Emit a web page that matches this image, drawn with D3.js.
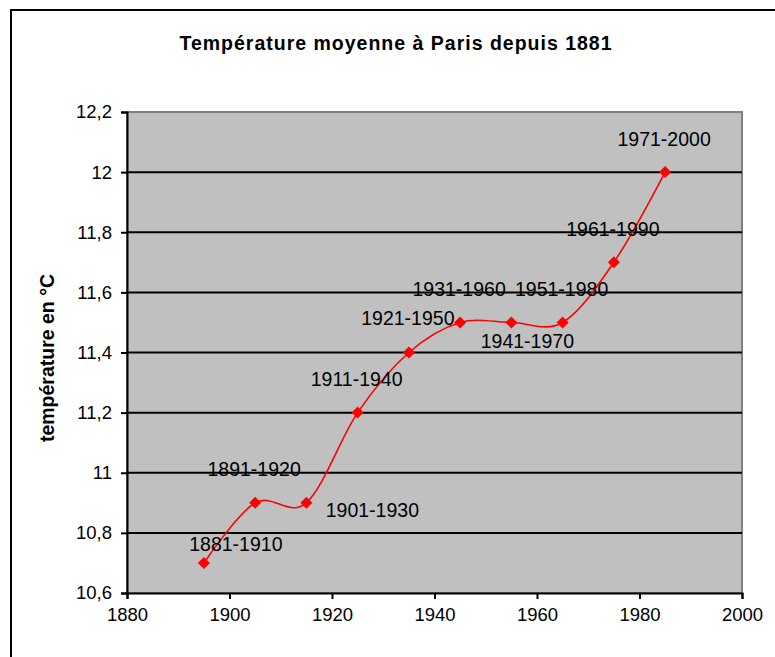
<!DOCTYPE html>
<html>
<head>
<meta charset="utf-8">
<script src="https://cdn.jsdelivr.net/npm/d3@7"></script>
<style>
  body { margin: 0; background: #fff; }
  svg text { font-family: "Liberation Sans", Arial, sans-serif; }
</style>
</head>
<body>
<div id="chart"></div>
<script>
// data: centre year of each 30-year normal and its mean temperature
var years = [1895, 1905, 1915, 1925, 1935, 1945, 1955, 1965, 1975, 1985];
var temps = [10.7, 10.9, 10.9, 11.2, 11.4, 11.5, 11.5, 11.5, 11.7, 12.0];
var periods = ["1881-1910", "1891-1920", "1901-1930", "1911-1940", "1921-1950",
               "1931-1960", "1941-1970", "1951-1980", "1961-1990", "1971-2000"];
var xTicks = [1880, 1900, 1920, 1940, 1960, 1980, 2000];
var yTicks = [10.6, 10.8, 11, 11.2, 11.4, 11.6, 11.8, 12, 12.2];

// where each data label sits relative to its marker (moved by hand in the original)
var labelShift = [[32, -12], [-1, -27], [66, 14], [-1, -27], [-1, -28],
                  [-1, -26], [16, 26], [-1, -26], [-1, -26], [-1, -26]];

var width = 775, height = 657;
var plot = {left: 127, right: 742, top: 112, bottom: 593};

var svg = d3.select("#chart").append("svg")
    .attr("width", width)
    .attr("height", height);

// chart area border, runs off the right and bottom of the picture
svg.append("rect")
    .attr("x", 11).attr("y", 10)
    .attr("width", 800).attr("height", 700)
    .attr("fill", "#fff")
    .attr("stroke", "#000")
    .attr("stroke-width", 2);

svg.append("text")
    .attr("x", 396).attr("y", 50)
    .attr("text-anchor", "middle")
    .attr("font-size", "19.5px")
    .attr("font-weight", "bold")
    .attr("letter-spacing", "1px")
    .text("Température moyenne à Paris depuis 1881");

var x = d3.scaleLinear().domain([1880, 2000]).range([plot.left, plot.right]);
var y = d3.scaleLinear().domain([10.6, 12.2]).range([plot.bottom, plot.top]);

// plot area
svg.append("rect")
    .attr("x", plot.left).attr("y", plot.top)
    .attr("width", plot.right - plot.left)
    .attr("height", plot.bottom - plot.top)
    .attr("fill", "#c0c0c0")
    .attr("stroke", "#808080")
    .attr("stroke-width", 2);

// gridlines
svg.append("g")
    .selectAll("line")
    .data(yTicks.slice(1, -1))
    .enter().append("line")
    .attr("x1", plot.left).attr("x2", plot.right)
    .attr("y1", function(d) { return y(d); })
    .attr("y2", function(d) { return y(d); })
    .attr("stroke", "#000")
    .attr("stroke-width", 2);

var fmt = function(d) { return d3.format("")(+d.toFixed(1)).replace(".", ","); };

var yAxis = svg.append("g")
    .attr("transform", "translate(" + plot.left + ",0)")
    .call(d3.axisLeft(y).tickValues(yTicks).tickFormat(fmt).tickSize(6).tickPadding(9));

var xAxis = svg.append("g")
    .attr("transform", "translate(0," + plot.bottom + ")")
    .call(d3.axisBottom(x).tickValues(xTicks).tickFormat(d3.format("d")).tickSize(6).tickPadding(9));

[xAxis, yAxis].forEach(function(ax) {
    ax.select(".domain").attr("stroke", "#000").attr("stroke-width", 2);
    ax.selectAll(".tick line").attr("stroke", "#000").attr("stroke-width", 2);
    ax.selectAll(".tick text")
        .attr("fill", "#000")
        .attr("font-size", "18.5px")
        .attr("font-family", "Liberation Sans, Arial, sans-serif");
});

svg.append("text")
    .attr("transform", "translate(54,358) rotate(-90)")
    .attr("text-anchor", "middle")
    .attr("font-size", "19.5px")
    .attr("font-weight", "bold")
    .text("température en °C");

var points = years.map(function(d, i) { return {year: d, temp: temps[i], label: periods[i], shift: labelShift[i]}; });

var line = d3.line()
    .x(function(d) { return x(d.year); })
    .y(function(d) { return y(d.temp); })
    .curve(d3.curveCatmullRom.alpha(0));

svg.append("path")
    .datum(points)
    .attr("d", line)
    .attr("fill", "none")
    .attr("stroke", "#ff0000")
    .attr("stroke-width", 1.6);

svg.append("g")
    .selectAll("path")
    .data(points)
    .enter().append("path")
    .attr("d", d3.symbol().type(d3.symbolSquare).size(72))
    .attr("transform", function(d) { return "translate(" + x(d.year) + "," + y(d.temp) + ") rotate(45)"; })
    .attr("fill", "#ff0000");

svg.append("g")
    .selectAll("text")
    .data(points)
    .enter().append("text")
    .attr("x", function(d) { return x(d.year) + d.shift[0]; })
    .attr("y", function(d) { return y(d.temp) + d.shift[1]; })
    .attr("text-anchor", "middle")
    .attr("font-size", "19.5px")
    .attr("fill", "#000")
    .text(function(d) { return d.label; });
</script>
</body>
</html>
